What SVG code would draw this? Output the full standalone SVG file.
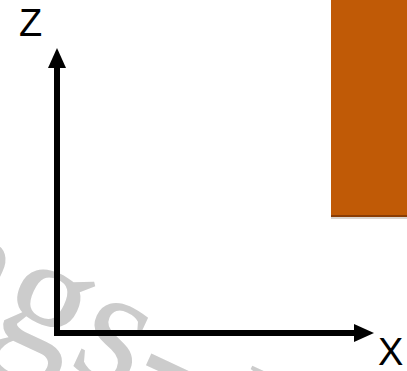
<svg xmlns="http://www.w3.org/2000/svg" width="407" height="371" viewBox="0 0 407 371">
  <style>
    .label { font-family: "Liberation Sans", Arial, sans-serif; font-size: 38px; fill: #000; }
    .axis { fill: none; stroke: #000; stroke-width: 6; stroke-linejoin: miter; }
    .wm { font-family: "Liberation Serif", "Times New Roman", serif; font-size: 170px; fill: #cccccc; }
  </style>
  <defs>
    <marker id="arrow" viewBox="0 0 20 18" refX="0" refY="9" markerWidth="20" markerHeight="18" markerUnits="userSpaceOnUse" orient="auto-start-reverse">
      <path d="M0,0 L20,9 L0,18 Z" fill="#000"/>
    </marker>
  </defs>
  <rect width="407" height="371" fill="#fff"/>
  <g id="watermark">
    <text class="wm" transform="translate(-11,329) rotate(25)" x="-85" y="0">ngs- nd</text>
  </g>
  <g id="block">
    <rect x="331" y="216" width="76" height="3" fill="#d9d4d0"/>
    <rect x="331" y="0" width="76" height="217" fill="#8a3d05"/>
    <rect x="331" y="0" width="76" height="215" fill="#c05a06"/>
  </g>
  <g id="connectors">
    <path class="axis" d="M57,68 V333 H354" marker-start="url(#arrow)" marker-end="url(#arrow)"/>
  </g>
  <g id="label-z">
    <text class="label" x="19" y="36">Z</text>
  </g>
  <g id="label-x">
    <text class="label" x="378" y="365">X</text>
  </g>
</svg>
